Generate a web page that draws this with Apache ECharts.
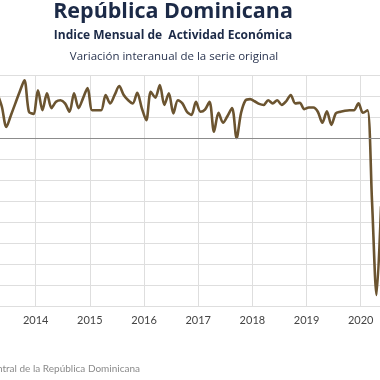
<!DOCTYPE html>
<html><head><meta charset="utf-8">
<script src="https://cdn.jsdelivr.net/npm/echarts@6/dist/echarts.min.js"></script>
<style>html,body{margin:0;padding:0;width:380px;height:380px;overflow:hidden;background:#fff}
#c{position:absolute;left:-60px;top:0;width:520px;height:380px}</style>
</head><body><div id="c"></div>
<script>
const months = ['2013-04','2013-05','2013-06','2013-07','2013-08','2013-09','2013-10','2013-11','2013-12',
'2014-01','2014-02','2014-03','2014-04','2014-05','2014-06','2014-07','2014-08','2014-09','2014-10','2014-11','2014-12',
'2015-01','2015-02','2015-03','2015-04','2015-05','2015-06','2015-07','2015-08','2015-09','2015-10','2015-11','2015-12',
'2016-01','2016-02','2016-03','2016-04','2016-05','2016-06','2016-07','2016-08','2016-09','2016-10','2016-11','2016-12',
'2017-01','2017-02','2017-03','2017-04','2017-05','2017-06','2017-07','2017-08','2017-09','2017-10','2017-11','2017-12',
'2018-01','2018-02','2018-03','2018-04','2018-05','2018-06','2018-07','2018-08','2018-09','2018-10','2018-11','2018-12',
'2019-01','2019-02','2019-03','2019-04','2019-05','2019-06','2019-07','2019-08','2019-09','2019-10','2019-11','2019-12',
'2020-01','2020-02','2020-03','2020-04','2020-05'];
const values = [8.5,6.0,2.1,4.3,6.6,8.9,11.0,5.0,4.6,
9.1,5.3,8.5,5.7,6.9,7.2,6.6,5.0,8.5,5.7,7.6,9.5,
5.3,5.3,5.3,8.2,6.6,8.2,9.9,8.2,7.2,6.6,8.6,5.7,
3.4,8.8,7.7,10.1,6.3,8.5,4.7,7.2,6.6,5.0,4.4,6.9,
5.0,5.4,6.9,1.2,4.8,2.9,4.2,5.7,0.0,4.8,7.2,7.4,
7.0,6.5,6.3,7.2,6.6,7.2,6.3,7.0,8.2,6.6,6.7,5.5,
5.8,5.8,5.0,2.9,5.1,2.5,4.7,5.0,5.2,5.3,5.3,6.6,
4.8,5.3,-12.0,-29.9,-13.0];
const yearTicks = [2013,2014,2015,2016,2017,2018,2019,2020,2021];
const titleText = 'República Dominicana';
const subtitleText = 'Indice Mensual de  Actividad Económica';
const subtitle2Text = 'Variación interanual de la serie original';
const sourceText = 'Fuente: Banco Central de la República Dominicana';

const points = months.map((m, i) => {
  const [y, mo] = m.split('-').map(Number);
  return [y + (mo - 0.5) / 12, values[i]];
});
const OFF = 60;
const chart = echarts.init(document.getElementById('c'));
chart.setOption({
  animation: false,
  grid: {left: 41.5, right: 45.1, top: 75, bottom: 74},
  xAxis: {
    type: 'value', min: yearTicks[0], max: yearTicks[yearTicks.length-1], interval: 1,
    axisLine: {show: false}, axisTick: {show: false},
    axisLabel: {formatter: v => String(v), color: '#444', fontSize: 11, fontFamily: 'Lato', margin: 9},
    splitLine: {show: true, lineStyle: {color: '#dedede', width: 1}}
  },
  yAxis: {
    type: 'value', min: -32, max: 12, interval: 4,
    axisLine: {show: false}, axisTick: {show: false}, axisLabel: {show: false},
    splitLine: {show: true, lineStyle: {color: '#dedede', width: 1}}
  },
  series: [{
    type: 'line', data: points, showSymbol: false, smooth: 0.3,
    lineStyle: {color: '#6b5430', width: 2.6}, clip: true,
    markLine: {silent: true, symbol: 'none', label: {show: false},
      lineStyle: {color: '#8c8c8c', width: 1, type: 'solid'}, data: [{yAxis: 0}]}
  }],
  graphic: [
    {type: 'text', x: 173 + OFF, y: 12, style: {text: titleText, fill: '#1c2a47', font: 'bold 21.5px "Open Sans"', textAlign: 'center', textVerticalAlign: 'middle'}},
    {type: 'text', x: 173 + OFF, y: 36, style: {text: subtitleText, fill: '#1c2a47', font: 'bold 12px "Open Sans"', textAlign: 'center', textVerticalAlign: 'middle'}},
    {type: 'text', x: 174 + OFF, y: 57, style: {text: subtitle2Text, fill: '#2a3550', font: '11.5px "Open Sans"', textAlign: 'center', textVerticalAlign: 'middle'}},
    {type: 'text', x: 140 + OFF, y: 369, style: {text: sourceText, fill: '#8a8a8a', font: '10px Lato', textAlign: 'right', textVerticalAlign: 'middle'}}
  ]
});
</script></body></html>
